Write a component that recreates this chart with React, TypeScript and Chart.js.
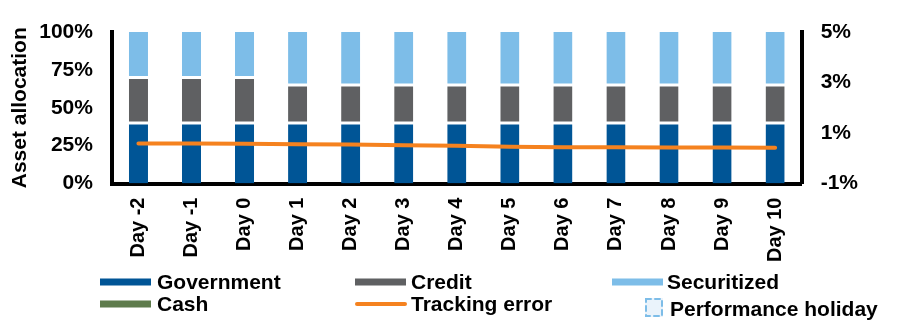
import React, { useEffect, useRef } from 'react';
import { Chart, registerables } from 'chart.js';

Chart.register(...registerables);

const CATEGORIES = ['Day -2', 'Day -1', 'Day 0', 'Day 1', 'Day 2', 'Day 3', 'Day 4', 'Day 5', 'Day 6', 'Day 7', 'Day 8', 'Day 9', 'Day 10'];
const GOVERNMENT = [40, 40, 40, 40, 40, 40, 40, 40, 40, 40, 40, 40, 40];
const CREDIT = [30, 30, 30, 25, 25, 25, 25, 25, 25, 25, 25, 25, 25];
const SECURITIZED = [30, 30, 30, 35, 35, 35, 35, 35, 35, 35, 35, 35, 35];
const CASH = [0, 0, 0, 0, 0, 0, 0, 0, 0, 0, 0, 0, 0];
const TRACKING_ERROR = [0.58, 0.58, 0.57, 0.55, 0.54, 0.52, 0.5, 0.46, 0.44, 0.44, 0.43, 0.43, 0.42];
const LEFT_TICKS = [0, 25, 50, 75, 100];
const RIGHT_TICKS = [-1, 1, 3, 5];

const FONT = "'Liberation Sans', Arial, Helvetica, sans-serif";
const COLORS = {
  government: '#005596',
  credit: '#5f6062',
  securitized: '#7dbde8',
  cash: '#5e7b4c',
  tracking: '#f5821f',
  holidayFill: '#eaf3fb',
  holidayBorder: '#7dbde8',
};

const legendPlugin = {
  id: 'customLegend',
  afterDraw(chart: any) {
    const ctx = chart.ctx as CanvasRenderingContext2D;
    const ds = chart.data.datasets;
    const items = [
      { ds: ds[0], kind: 'bar', sx: 100, tx: 157, y: 282 },
      { ds: ds[1], kind: 'bar', sx: 355, tx: 411, y: 282 },
      { ds: ds[2], kind: 'bar', sx: 612, tx: 667, y: 282 },
      { ds: ds[3], kind: 'bar', sx: 100, tx: 157, y: 304 },
      { ds: ds[4], kind: 'line', sx: 355, tx: 411, y: 304 },
      { ds: ds[5], kind: 'box', sx: 645, tx: 670, y: 309 },
    ];
    ctx.save();
    ctx.font = `bold 21px ${FONT}`;
    ctx.textBaseline = 'middle';
    ctx.textAlign = 'left';
    items.forEach((it) => {
      if (it.kind === 'bar') {
        ctx.fillStyle = it.ds.backgroundColor;
        ctx.fillRect(it.sx, it.y - 3.5, 51, 7);
      } else if (it.kind === 'line') {
        ctx.strokeStyle = it.ds.borderColor;
        ctx.lineWidth = 4;
        ctx.lineCap = 'round';
        ctx.beginPath();
        ctx.moveTo(it.sx + 2, it.y);
        ctx.lineTo(it.sx + 50, it.y);
        ctx.stroke();
      } else {
        ctx.fillStyle = it.ds.backgroundColor;
        ctx.fillRect(it.sx, it.y - 11, 18, 19);
        ctx.strokeStyle = it.ds.borderColor;
        ctx.lineWidth = 2;
        ctx.setLineDash([5, 4]);
        ctx.strokeRect(it.sx + 1, it.y - 10, 16, 17);
        ctx.setLineDash([]);
      }
      ctx.fillStyle = '#000';
      ctx.fillText(it.ds.label, it.tx, it.y + 1);
    });
    ctx.restore();
  },
};

export default function App() {
  const ref = useRef<HTMLCanvasElement>(null);

  useEffect(() => {
    document.body.style.margin = '0';
    const canvas = ref.current;
    if (!canvas) return;
    const barCommon = { borderColor: '#ffffff', borderSkipped: false, yAxisID: 'y', stack: 'alloc', order: 1, barPercentage: 0.36, categoryPercentage: 1 };
    const chart = new Chart(canvas, {
      type: 'bar',
      data: {
        labels: CATEGORIES,
        datasets: [
          { type: 'bar', label: 'Government', data: GOVERNMENT, backgroundColor: COLORS.government, ...barCommon, borderWidth: { top: 1.5, bottom: 0, left: 0, right: 0 } },
          { type: 'bar', label: 'Credit', data: CREDIT, backgroundColor: COLORS.credit, ...barCommon, borderWidth: { top: 1.5, bottom: 1.5, left: 0, right: 0 } },
          { type: 'bar', label: 'Securitized', data: SECURITIZED, backgroundColor: COLORS.securitized, ...barCommon, borderWidth: { top: 0, bottom: 1.5, left: 0, right: 0 } },
          { type: 'bar', label: 'Cash', data: CASH, backgroundColor: COLORS.cash, ...barCommon, borderWidth: 0 },
          { type: 'line', label: 'Tracking error', data: TRACKING_ERROR, borderColor: COLORS.tracking, backgroundColor: COLORS.tracking, borderWidth: 4, pointRadius: 0, borderCapStyle: 'round', borderJoinStyle: 'round', tension: 0, yAxisID: 'y1', order: 0 },
          { type: 'bar', label: 'Performance holiday', data: [], backgroundColor: COLORS.holidayFill, borderColor: COLORS.holidayBorder, hidden: true, yAxisID: 'y', stack: 'holiday', order: 2 },
        ] as any,
      },
      options: {
        responsive: false,
        animation: false,
        layout: { padding: { left: 4, right: 42, top: 32, bottom: 58 } },
        plugins: {
          legend: { display: false },
          tooltip: { enabled: false },
        },
        scales: {
          x: {
            stacked: true,
            grid: { display: false, drawTicks: true, tickLength: 14 },
            border: { display: true, color: '#000', width: 4 },
            ticks: {
              color: '#000',
              font: { family: FONT, size: 20, weight: 'bold' },
              minRotation: 90,
              maxRotation: 90,
              padding: 0,
              autoSkip: false,
            },
          },
          y: {
            position: 'left',
            stacked: true,
            min: 0,
            max: 100,
            grid: { display: false, drawTicks: true, tickLength: 19 },
            border: { display: true, color: '#000', width: 4 },
            afterBuildTicks: (s: any) => { s.ticks = LEFT_TICKS.map((v) => ({ value: v })); },
            ticks: {
              color: '#000',
              font: { family: FONT, size: 21, weight: 'bold' },
              padding: 0,
              callback: (v: any) => `${v}%`,
            },
            title: {
              display: true,
              text: 'Asset allocation',
              color: '#000',
              font: { family: FONT, size: 21, weight: 'bold' },
              padding: { top: 4, bottom: 6 },
            },
          },
          y1: {
            position: 'right',
            min: -1,
            max: 5,
            grid: { display: false, drawTicks: true, tickLength: 19 },
            border: { display: true, color: '#000', width: 4 },
            afterBuildTicks: (s: any) => { s.ticks = RIGHT_TICKS.map((v) => ({ value: v })); },
            ticks: {
              color: '#000',
              font: { family: FONT, size: 21, weight: 'bold' },
              padding: 0,
              callback: (v: any) => `${v}%`,
            },
          },
        },
      } as any,
      plugins: [legendPlugin],
    });
    return () => chart.destroy();
  }, []);

  return (
    <div style={{ width: 900, height: 320 }}>
      <canvas ref={ref} width={900} height={320} />
    </div>
  );
}
